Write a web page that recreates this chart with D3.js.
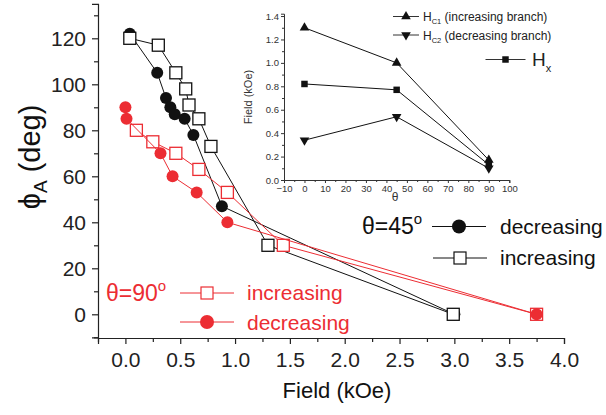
<!DOCTYPE html>
<html lang="en">
<head>
<meta charset="utf-8">
<title>phi_A vs field</title>
<script src="https://cdn.jsdelivr.net/npm/d3@7"></script>
<style>
  body { margin: 0; background: #fff; }
  text { font-family: "Liberation Sans", Arial, sans-serif; }
</style>
</head>
<body>
<script>
// main plot data (Field in kOe, phi_A in deg)
var field45dec = [0.04, 0.29, 0.37, 0.41, 0.45, 0.54, 0.62, 0.88, 3.0];
var phi45dec   = [122, 105, 94, 90, 87, 85, 78, 47, 0];
var field45inc = [0.04, 0.30, 0.46, 0.55, 0.58, 0.67, 0.78, 1.30, 2.99];
var phi45inc   = [120, 117, 105, 98, 91, 85, 73, 30, 0];
var field90dec = [0.0, 0.01, 0.32, 0.43, 0.65, 0.93, 3.75];
var phi90dec   = [90, 85, 70, 60, 53, 40, 0];
var field90inc = [0.10, 0.25, 0.46, 0.67, 0.93, 1.44, 3.75];
var phi90inc   = [80, 75, 70, 63, 53, 30, 0];

// inset data (theta in deg, field in kOe)
var theta = [0, 45, 90];
var hc1 = [1.30, 1.00, 0.17];
var hc2 = [0.34, 0.54, 0.10];
var hx  = [0.82, 0.77, 0.13];

var xTicks = [0, 0.5, 1, 1.5, 2, 2.5, 3, 3.5, 4];
var yTicks = [0, 20, 40, 60, 80, 100, 120];
var insetXTicks = d3.range(-10, 101, 10);
var insetYTicks = [0, 0.2, 0.4, 0.6, 0.8, 1.0, 1.2, 1.4];

var red = "#ec2d33";
var w = 606, h = 415;

var svg = d3.select("body").append("svg")
  .attr("width", w).attr("height", h);

var x = d3.scaleLinear().domain([-0.25, 4]).range([98, 564]);
var y = d3.scaleLinear().domain([-10, 135]).range([337.3, 3.8]);

function zip(a, b) { return a.map(function(d, i) { return [d, b[i]]; }); }

// axes
var xAxis = d3.axisBottom(x).tickValues(xTicks).tickSize(6).tickPadding(8)
  .tickFormat(d3.format(".1f"));
var gx = svg.append("g").attr("transform", "translate(0,338)").call(xAxis);
gx.selectAll(".tick text").attr("font-size", 21).attr("fill", "#222")
  .attr("font-family", "Liberation Sans, Arial, sans-serif");
svg.append("g").attr("transform", "translate(0,338)")
  .call(d3.axisBottom(x).tickValues(d3.range(-0.25, 4, 0.5)).tickSize(4).tickFormat(""))
  .select(".domain").remove();

var yAxis = d3.axisLeft(y).tickValues(yTicks).tickSize(6).tickPadding(6);
var gy = svg.append("g").attr("transform", "translate(98,0)").call(yAxis);
gy.selectAll(".tick text").attr("font-size", 21).attr("fill", "#222")
  .attr("font-family", "Liberation Sans, Arial, sans-serif");
svg.append("g").attr("transform", "translate(98,0)")
  .call(d3.axisLeft(y).tickValues(d3.range(-10, 135, 20)).tickSize(4).tickFormat(""))
  .select(".domain").remove();
svg.selectAll(".domain").attr("stroke", "#222").attr("stroke-width", 1.2);
svg.selectAll(".tick line").attr("stroke", "#222").attr("stroke-width", 1.2);

// axis titles
svg.append("text").attr("x", 337).attr("y", 398).attr("text-anchor", "middle")
  .attr("font-size", 22).attr("fill", "#111").text("Field (kOe)");
var yl = svg.append("text").attr("transform", "translate(40,157) rotate(-90)")
  .attr("text-anchor", "middle").attr("font-size", 29).attr("fill", "#111");
yl.append("tspan").text("\u03d5");
yl.append("tspan").attr("font-size", 19).attr("dy", 7).text("A");
yl.append("tspan").attr("dy", -7).text(" (deg)");

var line = d3.line().x(function(d) { return x(d[0]); }).y(function(d) { return y(d[1]); });

function drawCircles(data, color) {
  svg.append("path").datum(data).attr("d", line)
    .attr("fill", "none").attr("stroke", color).attr("stroke-width", 1);
  svg.selectAll(null).data(data).enter().append("circle")
    .attr("cx", function(d) { return x(d[0]); })
    .attr("cy", function(d) { return y(d[1]); })
    .attr("r", 6).attr("fill", color);
}
function drawSquares(data, color) {
  svg.append("path").datum(data).attr("d", line)
    .attr("fill", "none").attr("stroke", color).attr("stroke-width", 1);
  svg.selectAll(null).data(data).enter().append("rect")
    .attr("x", function(d) { return x(d[0]) - 6; })
    .attr("y", function(d) { return y(d[1]) - 6; })
    .attr("width", 12).attr("height", 12)
    .attr("fill", "#fff").attr("stroke", color).attr("stroke-width", 1.3);
}

drawCircles(zip(field45dec, phi45dec), "#111");
drawSquares(zip(field45inc, phi45inc), "#111");
drawSquares(zip(field90inc, phi90inc), red);
drawCircles(zip(field90dec, phi90dec), red);

// legends in main plot
function legendRow(cx, cy, color, sym) {
  svg.append("line").attr("x1", cx - 27).attr("x2", cx + 27)
    .attr("y1", cy).attr("y2", cy).attr("stroke", color).attr("stroke-width", 1);
  if (sym === "c") {
    svg.append("circle").attr("cx", cx).attr("cy", cy).attr("r", 7).attr("fill", color);
  } else {
    svg.append("rect").attr("x", cx - 6).attr("y", cy - 6).attr("width", 12).attr("height", 12)
      .attr("fill", "#fff").attr("stroke", color).attr("stroke-width", 1.2);
  }
}
var t45 = svg.append("text").attr("x", 362).attr("y", 234).attr("font-size", 23).attr("fill", "#111");
t45.append("tspan").text("\u03b8=45");
t45.append("tspan").attr("font-size", 15).attr("dy", -10).text("o");
legendRow(459, 226.5, "#111", "c");
svg.append("text").attr("x", 500).attr("y", 234).attr("font-size", 21).attr("fill", "#111").text("decreasing");
legendRow(460, 258, "#111", "s");
svg.append("text").attr("x", 500).attr("y", 265).attr("font-size", 21).attr("fill", "#111").text("increasing");

var t90 = svg.append("text").attr("x", 106).attr("y", 301).attr("font-size", 23).attr("fill", red);
t90.append("tspan").text("\u03b8=90");
t90.append("tspan").attr("font-size", 15).attr("dy", -10).text("o");
legendRow(207, 293, red, "s");
svg.append("text").attr("x", 247).attr("y", 300).attr("font-size", 21).attr("fill", red).text("increasing");
legendRow(207, 322, red, "c");
svg.append("text").attr("x", 247).attr("y", 330).attr("font-size", 21).attr("fill", red).text("decreasing");

// inset
var ix = d3.scaleLinear().domain([-10, 100]).range([284, 509.3]);
var iy = d3.scaleLinear().domain([0, 1.42]).range([180, 13.7]);
var ig = svg.append("g");
ig.append("g").attr("transform", "translate(0,180)")
  .call(d3.axisBottom(ix).tickValues(insetXTicks).tickSize(3).tickPadding(2));
ig.append("g").attr("transform", "translate(0,180)")
  .call(d3.axisBottom(ix).tickValues(d3.range(-5, 100, 10)).tickSize(2).tickFormat(""))
  .select(".domain").remove();
ig.append("g").attr("transform", "translate(284,0)")
  .call(d3.axisLeft(iy).tickValues(insetYTicks).tickSize(3).tickPadding(2).tickFormat(d3.format(".1f")));
ig.append("g").attr("transform", "translate(284,0)")
  .call(d3.axisLeft(iy).tickValues(d3.range(0.1, 1.4, 0.2)).tickSize(2).tickFormat(""))
  .select(".domain").remove();
ig.selectAll(".tick text").attr("font-size", 9.5).attr("fill", "#333")
  .attr("font-family", "Liberation Sans, Arial, sans-serif");
ig.selectAll(".domain").attr("stroke", "#333");
ig.selectAll(".tick line").attr("stroke", "#333");

ig.append("text").attr("x", 395).attr("y", 201).attr("text-anchor", "middle")
  .attr("font-size", 12).attr("fill", "#333").text("\u03b8");
ig.append("text").attr("transform", "translate(252,97) rotate(-90)").attr("text-anchor", "middle")
  .attr("font-size", 11).attr("fill", "#333").text("Field (kOe)");

var iline = d3.line().x(function(d) { return ix(d[0]); }).y(function(d) { return iy(d[1]); });
var triUp = d3.symbol().type(d3.symbolTriangle).size(40);
var sq = d3.symbol().type(d3.symbolSquare).size(42);

function insetSeries(vals, sym, rot) {
  var data = zip(theta, vals);
  ig.append("path").datum(data).attr("d", iline)
    .attr("fill", "none").attr("stroke", "#111").attr("stroke-width", 1);
  ig.selectAll(null).data(data).enter().append("path")
    .attr("d", sym)
    .attr("transform", function(d) {
      return "translate(" + ix(d[0]) + "," + iy(d[1]) + ") rotate(" + rot + ")";
    })
    .attr("fill", "#111");
}
insetSeries(hc1, triUp, 0);
insetSeries(hx, sq, 0);
insetSeries(hc2, triUp, 180);

// inset legend
function insetLegend(cx, cy, sym, rot, half) {
  ig.append("line").attr("x1", cx - half).attr("x2", cx + half).attr("y1", cy).attr("y2", cy)
    .attr("stroke", "#333").attr("stroke-width", 1);
  ig.append("path").attr("d", sym)
    .attr("transform", "translate(" + cx + "," + cy + ") rotate(" + rot + ")").attr("fill", "#111");
}
insetLegend(406, 16.5, triUp, 0, 13);
var l1 = ig.append("text").attr("x", 423).attr("y", 21).attr("font-size", 12).attr("fill", "#222");
l1.append("tspan").text("H");
l1.append("tspan").attr("font-size", 7.5).attr("dy", 3).text("C1");
l1.append("tspan").attr("dy", -3).text(" (increasing branch)");
insetLegend(406, 35, triUp, 180, 13);
var l2 = ig.append("text").attr("x", 423).attr("y", 39.5).attr("font-size", 12).attr("fill", "#222");
l2.append("tspan").text("H");
l2.append("tspan").attr("font-size", 7.5).attr("dy", 3).text("C2");
l2.append("tspan").attr("dy", -3).text(" (decreasing branch)");
insetLegend(505.5, 59.5, sq, 0, 20);
var l3 = ig.append("text").attr("x", 532).attr("y", 66).attr("font-size", 19).attr("fill", "#222");
l3.append("tspan").text("H");
l3.append("tspan").attr("font-size", 11).attr("dy", 6).text("x");
</script>
</body>
</html>
